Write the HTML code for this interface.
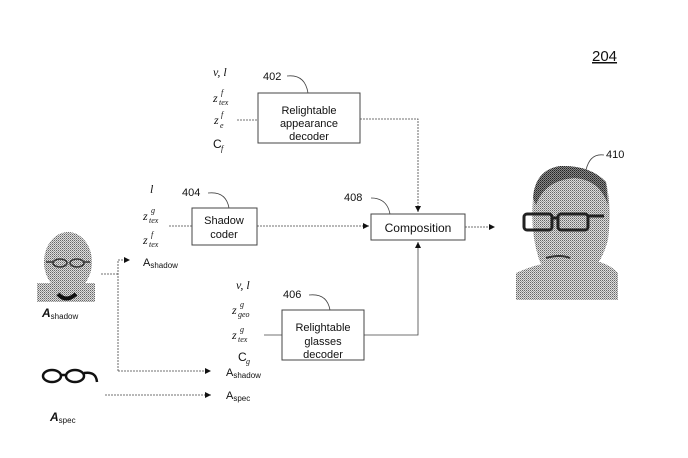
<!DOCTYPE html>
<html><head><style>
body{margin:0;background:#fff;}
svg{display:block;}
text{font-family:"Liberation Sans",sans-serif;fill:#111;}
.m{font-family:"Liberation Serif",serif;font-style:italic;font-size:12px;}
.s{font-family:"Liberation Serif",serif;font-style:italic;font-size:8px;}
</style></head><body>
<svg width="688" height="458" viewBox="0 0 688 458" xmlns="http://www.w3.org/2000/svg">
<defs>
<marker id="a" markerWidth="8" markerHeight="8" refX="6" refY="3" orient="auto" markerUnits="userSpaceOnUse"><path d="M0,0 L6,3 L0,6z" fill="#111"/></marker>
<pattern id="dots" width="2" height="2" patternUnits="userSpaceOnUse"><rect width="2" height="2" fill="#ddd"/><rect width="1" height="1" fill="#666"/><rect x="1" y="1" width="1" height="1" fill="#999"/></pattern>
<pattern id="dk" width="2" height="2" patternUnits="userSpaceOnUse"><rect width="2" height="2" fill="#888"/><rect width="1" height="1" fill="#222"/><rect x="1" y="1" width="1" height="1" fill="#444"/></pattern>
</defs>
<text x="592" y="61" font-size="15" text-decoration="underline">204</text>
<g fill="#fff" stroke="#444" stroke-width="1">
<rect x="258" y="93" width="102" height="50"/>
<rect x="192" y="208" width="65" height="37"/>
<rect x="371" y="214" width="94" height="26"/>
<rect x="282" y="310" width="82" height="50"/>
</g>
<g font-size="11" text-anchor="middle">
<text x="309" y="114">Relightable</text><text x="309" y="127">appearance</text><text x="309" y="140">decoder</text>
<text x="224" y="224">Shadow</text><text x="224" y="238">coder</text>
<text x="418" y="232" font-size="12">Composition</text>
<text x="323" y="331">Relightable</text><text x="323" y="345">glasses</text><text x="323" y="358">decoder</text>
</g>
<g font-size="11">
<text x="263" y="80">402</text><text x="182" y="196">404</text><text x="344" y="201">408</text><text x="283" y="298">406</text><text x="606" y="158">410</text>
</g>
<g fill="none" stroke="#444" stroke-width="0.8">
<path d="M287,76 Q305,74 308,93"/><path d="M208,193 Q226,191 229,208"/><path d="M371,198 Q387,198 390,214"/><path d="M309,295 Q327,293 330,310"/><path d="M604,155 Q590,153 586,170"/>
</g>
<g fill="none" stroke="#444" stroke-width="0.8" stroke-dasharray="2,1">
<path d="M237,120 H258"/>
<path d="M360,119 H418 V212" marker-end="url(#a)"/>
<path d="M169,226 H192"/>
<path d="M257,226 H369" marker-end="url(#a)"/>
<path d="M465,227 H495" marker-end="url(#a)"/>
<path d="M101,274 H118"/>
<path d="M118,371 V260 H130" marker-end="url(#a)"/>
<path d="M118,371 H211" marker-end="url(#a)"/>
<path d="M105,395 H211" marker-end="url(#a)"/>
</g>
<g fill="none" stroke="#444" stroke-width="0.8">
<path d="M264,335 H282"/>
<path d="M364,335 H418 V242" marker-end="url(#a)"/>
</g>
<!-- math labels -->
<text class="m" x="213" y="76">v, l</text>
<text class="m" x="213" y="102">z</text><text class="s" x="219" y="105">tex</text><text class="s" x="221" y="95">f</text>
<text class="m" x="214" y="124">z</text><text class="s" x="220" y="128">e</text><text class="s" x="221" y="117">f</text>
<text x="213" y="148" font-size="12" font-family="Liberation Serif">C</text><text class="s" x="221" y="151">f</text>
<text class="m" x="150" y="193">l</text>
<text class="m" x="143" y="220">z</text><text class="s" x="149" y="223">tex</text><text class="s" x="151" y="213">g</text>
<text class="m" x="143" y="244">z</text><text class="s" x="149" y="247">tex</text><text class="s" x="151" y="237">f</text>
<text x="143" y="266" font-size="11" font-family="Liberation Serif">A<tspan font-size="8" dy="2">shadow</tspan></text>
<text class="m" x="236" y="289">v, l</text>
<text class="m" x="232" y="314">z</text><text class="s" x="238" y="317">geo</text><text class="s" x="240" y="307">g</text>
<text class="m" x="232" y="339">z</text><text class="s" x="238" y="342">tex</text><text class="s" x="240" y="332">g</text>
<text x="238" y="361" font-size="12" font-family="Liberation Serif">C</text><text class="s" x="246" y="364">g</text>
<text x="226" y="376" font-size="11" font-family="Liberation Serif">A<tspan font-size="8" dy="2">shadow</tspan></text>
<text x="226" y="399" font-size="11" font-family="Liberation Serif">A<tspan font-size="8" dy="2">spec</tspan></text>
<text x="42" y="317" font-size="12" font-family="Liberation Serif" font-style="italic" font-weight="bold">A<tspan font-size="8" font-weight="normal" font-style="normal" dy="2">shadow</tspan></text>
<text x="50" y="421" font-size="12" font-family="Liberation Serif" font-style="italic" font-weight="bold">A<tspan font-size="8" font-weight="normal" font-style="normal" dy="2">spec</tspan></text>
<!-- small face -->
<rect x="37" y="283" width="58" height="19" fill="url(#dots)"/>
<ellipse cx="68" cy="262" rx="24" ry="30" fill="url(#dots)"/>
<path d="M58,294 Q66,303 76,294" stroke="#111" stroke-width="4" fill="none"/>
<g fill="none" stroke="#333" stroke-width="1.5"><ellipse cx="60" cy="263" rx="7" ry="4"/><ellipse cx="77" cy="263" rx="7" ry="4"/><path d="M46,262 h7 M84,262 h6"/></g>
<!-- glasses -->
<g fill="none" stroke="#111" stroke-width="2.5">
<ellipse cx="52" cy="376" rx="9" ry="6"/><ellipse cx="75" cy="376" rx="9" ry="6"/><path d="M61,375 h5 M84,373 q12,-2 13,9"/>
</g>
<!-- big face -->
<path d="M516,300 V273 Q540,262 560,262 H600 Q612,266 618,273 V300z" fill="url(#dots)"/>
<path d="M533,198 Q535,170 560,166 Q590,165 606,182 Q612,205 608,240 Q600,270 578,282 Q555,285 540,262 Q530,235 533,198z" fill="url(#dots)"/>
<path d="M533,198 Q535,170 560,166 Q590,165 606,182 L608,205 Q600,180 575,178 Q545,180 536,205z" fill="url(#dk)"/>
<g fill="none" stroke="#222" stroke-width="3"><rect x="524" y="214" width="28" height="16" rx="3"/><rect x="558" y="214" width="30" height="16" rx="3"/><path d="M552,218 h6 M588,216 h16"/></g>
<path d="M546,258 q14,-4 24,0" stroke="#333" stroke-width="2" fill="none"/>
</svg>
</body></html>
